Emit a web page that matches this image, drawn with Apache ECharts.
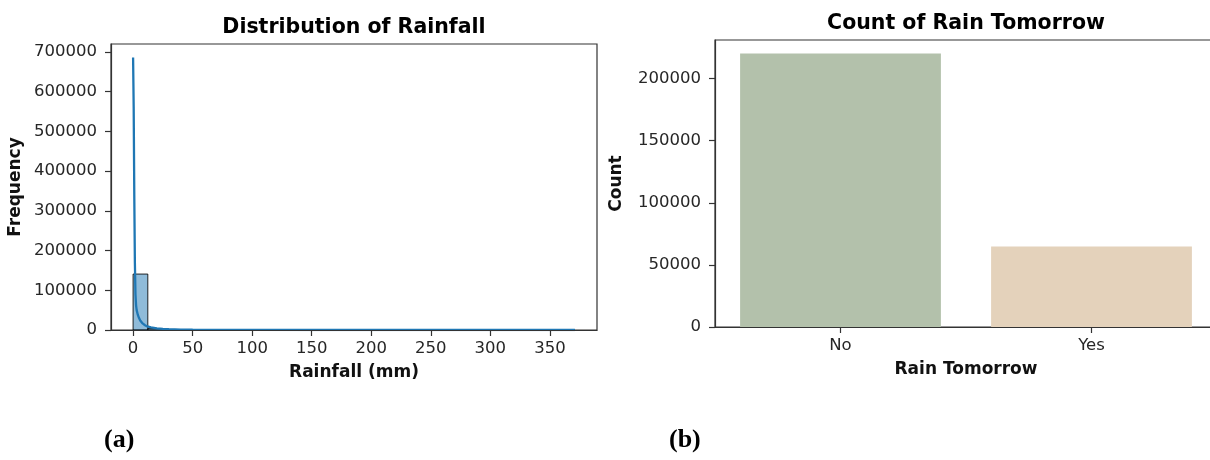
<!DOCTYPE html>
<html><head><meta charset="utf-8">
<script src="https://cdn.jsdelivr.net/npm/echarts@6/dist/echarts.min.js"></script>
<style>html,body{margin:0;padding:0;background:#fff}#c{width:1210px;height:460px}</style>
</head><body><div id="c"></div>
<script>
// ---- Data: (a) Distribution of Rainfall ----
const binEdges = [0, 12.37, 24.73, 37.1, 49.47, 61.83, 74.2, 86.57, 98.93, 111.3, 123.67, 136.03, 148.4, 160.77, 173.13, 185.5, 197.87, 210.23, 222.6, 234.97, 247.33, 259.7, 272.07, 284.43, 296.8, 309.17, 321.53, 333.9, 346.27, 358.63, 371];
const binCounts = [140800, 3600, 1300, 560, 280, 150, 90, 55, 35, 22, 14, 10, 7, 5, 4, 3, 2, 2, 1, 1, 1, 1, 0, 1, 0, 0, 0, 0, 0, 1];
const kdeX = [0, 0.5, 1, 1.5, 2, 2.5, 3, 4, 5, 6, 8, 10, 12, 15, 20, 25, 30, 40, 50, 70, 100, 150, 200, 250, 300, 371];
const kdeY = [686000, 560000, 340000, 170000, 90000, 62000, 50000, 38000, 30000, 24000, 16500, 12000, 9000, 6500, 4000, 2800, 2000, 1100, 700, 350, 150, 60, 25, 12, 6, 2];
const rainfallTicks = [0, 50, 100, 150, 200, 250, 300, 350];
const frequencyTicks = [0, 100000, 200000, 300000, 400000, 500000, 600000, 700000];

// ---- Data: (b) Count of Rain Tomorrow ----
const rainCategories = ['No', 'Yes'];
const rainCounts = [220200, 64700];
const rainColors = ['#b3c1ab', '#e4d2bb'];
const countTicks = [0, 50000, 100000, 150000, 200000];

const FONT = 'DejaVu Sans';
const plain = v => String(v);
const tickLabel = { color: '#262626', fontSize: 16.5, fontFamily: FONT, formatter: plain };
const axisNameStyle = { color: '#111', fontSize: 17, fontWeight: 'bold', fontFamily: FONT };
const spine = { show: true, onZero: false, lineStyle: { color: '#333', width: 1.2 } };
const tick = { show: true, length: 6, lineStyle: { color: '#333', width: 1.2 } };

const histData = binCounts.map((c, i) => [binEdges[i], binEdges[i + 1], c]);
const kdeData = kdeX.map((x, i) => [x, kdeY[i]]);

const chart = echarts.init(document.getElementById('c'), null, { renderer: 'canvas' });
chart.setOption({
  animation: false,
  backgroundColor: '#fff',
  title: [
    { text: 'Distribution of Rainfall', left: 354, top: 17, textAlign: 'center', padding: 0,
      textStyle: { fontFamily: FONT, fontWeight: 'bold', fontSize: 20.5, color: '#000' } },
    { text: 'Count of Rain Tomorrow', left: 966, top: 13, textAlign: 'center', padding: 0,
      textStyle: { fontFamily: FONT, fontWeight: 'bold', fontSize: 20.5, color: '#000' } }
  ],
  grid: [
    { left: 111, width: 486, top: 44, bottom: 130, show: true, borderColor: '#333', borderWidth: 1.2,
      containLabel: false, outerBoundsMode: 'none' },
    { left: 715, width: 502, top: 40, bottom: 133, show: true, borderColor: '#333', borderWidth: 1.2,
      containLabel: false, outerBoundsMode: 'none' }
  ],
  xAxis: [
    { type: 'value', gridIndex: 0, min: -18.55, max: 389.55, z: 5,
      axisLine: spine, axisTick: Object.assign({}, tick, { customValues: rainfallTicks }),
      axisLabel: Object.assign({}, tickLabel, { margin: 10, customValues: rainfallTicks }),
      splitLine: { show: false },
      name: 'Rainfall (mm)', nameLocation: 'middle', nameGap: 34, nameTextStyle: axisNameStyle },
    { type: 'category', gridIndex: 1, data: rainCategories, z: 5,
      axisLine: spine, axisTick: Object.assign({}, tick, { alignWithLabel: true }),
      axisLabel: Object.assign({}, tickLabel, { margin: 10, formatter: null }),
      name: 'Rain Tomorrow', nameLocation: 'middle', nameGap: 34, nameTextStyle: axisNameStyle }
  ],
  yAxis: [
    { type: 'value', gridIndex: 0, min: 0, max: 720000, z: 5,
      axisLine: spine, axisTick: Object.assign({}, tick, { customValues: frequencyTicks }),
      axisLabel: Object.assign({}, tickLabel, { margin: 14, customValues: frequencyTicks }),
      splitLine: { show: false },
      name: 'Frequency', nameLocation: 'middle', nameGap: 87, nameTextStyle: axisNameStyle },
    { type: 'value', gridIndex: 1, min: 0, max: 231000, z: 5,
      axisLine: spine, axisTick: Object.assign({}, tick, { customValues: countTicks }),
      axisLabel: Object.assign({}, tickLabel, { margin: 14, customValues: countTicks }),
      splitLine: { show: false },
      name: 'Count', nameLocation: 'middle', nameGap: 90, nameTextStyle: axisNameStyle }
  ],
  series: [
    { type: 'custom', xAxisIndex: 0, yAxisIndex: 0, data: histData, z: 2,
      renderItem: function (params, api) {
        const p0 = api.coord([api.value(0), api.value(2)]);
        const p1 = api.coord([api.value(1), 0]);
        return { type: 'rect',
          shape: { x: p0[0], y: p0[1], width: p1[0] - p0[0], height: p1[1] - p0[1] },
          style: { fill: 'rgba(31,119,180,0.5)', stroke: 'rgba(0,0,0,0.85)', lineWidth: 1 } };
      } },
    { type: 'line', xAxisIndex: 0, yAxisIndex: 0, data: kdeData, showSymbol: false, z: 3,
      lineStyle: { color: '#1f77b4', width: 2.3 } },
    { type: 'bar', xAxisIndex: 1, yAxisIndex: 1, barCategoryGap: '20%',
      data: rainCounts.map((v, i) => ({ value: v, itemStyle: { color: rainColors[i] } })) }
  ],
  graphic: [
    { type: 'text', left: 104, top: 427, style: { text: '(a)', font: 'bold 26px "Liberation Serif"', fill: '#000' } },
    { type: 'text', left: 669, top: 427, style: { text: '(b)', font: 'bold 26px "Liberation Serif"', fill: '#000' } }
  ]
});
</script>
</body></html>
